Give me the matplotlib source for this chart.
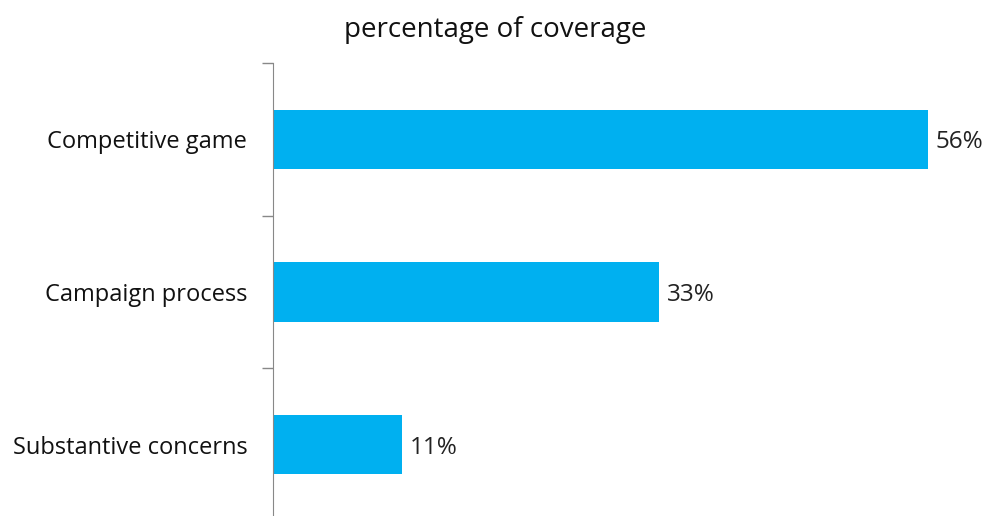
import matplotlib.pyplot as plt
from matplotlib.ticker import FixedLocator

plt.rcParams['font.family'] = ['Open Sans', 'DejaVu Sans']

categories = ['Competitive game', 'Campaign process', 'Substantive concerns']
values = [56, 33, 11]
labels = ['56%', '33%', '11%']

fig = plt.figure(figsize=(9.86, 5.16), dpi=100)
# axes placed in pixel terms: left edge at x=273, top at y=63, bottom runs off the image
ax = fig.add_axes([273 / 986, (516 - 521) / 516, (986 - 273) / 986, 458 / 516])

ypos = [2, 1, 0]
ax.barh(ypos, values, height=0.39, color='#00B0F0')
for y, v, lab in zip(ypos, values, labels):
    ax.text(v + 0.7, y, lab, va='center_baseline', ha='left', fontsize=17.5, color='#222222')

ax.set_xlim(0, 61)
ax.set_ylim(-0.5, 2.5)
ax.set_yticks(ypos)
ax.set_yticklabels(categories, fontsize=17, color='#111111')
ax.yaxis.set_minor_locator(FixedLocator([-0.5, 0.5, 1.5, 2.5]))
ax.tick_params(axis='y', which='major', length=0, pad=18.5)
ax.tick_params(axis='y', which='minor', length=8, color='#888888', width=1)
ax.set_xticks([])
for s in ['top', 'right', 'bottom']:
    ax.spines[s].set_visible(False)
ax.spines['left'].set_color('#888888')

fig.text(495 / 986, 1 - 30 / 516, 'percentage of coverage', ha='center', va='center',
         fontsize=20, color='#111111')

fig.savefig('out.png', dpi=100)
